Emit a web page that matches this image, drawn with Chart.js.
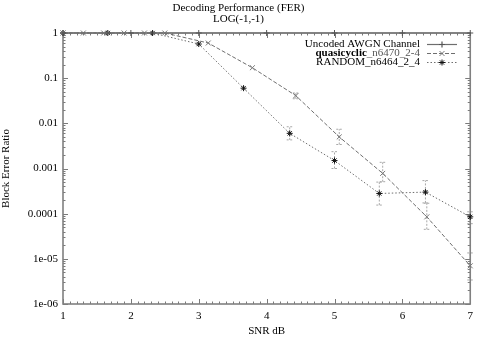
<!DOCTYPE html>
<html><head><meta charset="utf-8">
<script src="https://cdn.jsdelivr.net/npm/chart.js@4/dist/chart.umd.min.js"></script>
<style>html,body{margin:0;padding:0;background:#fff}#wrap{width:479px;height:338px}</style>
</head><body><div id="wrap"><canvas id="c" width="479" height="338"></canvas></div>
<script>
const titleLines = ["Decoding Performance (FER)", "LOG(-1,-1)"];
const xLabel = "SNR dB";
const yLabel = "Block Error Ratio";
const legendNames = ["Uncoded AWGN Channel", "quasicyclic_n6470_2-4", "RANDOM_n6464_2_4"];

const uncodedSnr = [1, 2, 3, 4, 5, 6, 7];
const uncodedFer = [1, 1, 1, 1, 1, 1, 1];

const quasiSnr = [1.0, 1.3, 1.6, 1.9, 2.2, 2.5, 3.14, 3.79, 4.43, 5.07, 5.71, 6.36, 7.0];
const quasiFer = [1, 1, 1, 1, 1, 1, 0.6, 0.17, 0.041, 0.005, 0.00078, 0.000085, 0.000007];
const quasiLo  = [null, null, null, null, null, null, null, null, 0.035, 0.0034, 0.00051, 0.000045, 0.0000034];
const quasiHi  = [null, null, null, null, null, null, null, null, 0.047, 0.0074, 0.00137, 0.00017, 0.0000135];

const randSnr = [1.0, 1.66, 2.32, 3.0, 3.66, 4.34, 5.0, 5.66, 6.34, 7.0];
const randFer = [1, 1, 1, 0.57, 0.06, 0.006, 0.0015, 0.00028, 0.0003, 0.000085];
const randLo  = [null, null, null, null, null, 0.0043, 0.001, 0.000155, 0.000173, 0.00006];
const randHi  = [null, null, null, null, null, 0.0084, 0.00236, 0.0005, 0.00054, 0.00011];

const xTicks = [1, 2, 3, 4, 5, 6, 7];
const yTicks = [1, 0.1, 0.01, 0.001, 0.0001, 0.00001, 0.000001];
const yTickText = ["1", "0.1", "0.01", "0.001", "0.0001", "1e-05", "1e-06"];

const FONT = "'Liberation Serif', 'DejaVu Serif', serif";
const FS = 11;
const pts = (xs, ys) => xs.map((x, i) => ({x: x, y: ys[i]}));

const dsStyle = [
  {color: '#6e6e6e', dash: [], pstyle: 'cross', pcolor: '#555', pr: 3, width: 1.2},
  {color: '#6e6e6e', dash: [4, 2], pstyle: 'crossRot', pcolor: '#777', pr: 3.5, width: 1},
  {color: '#6e6e6e', dash: [1.5, 2], pstyle: 'star', pcolor: '#111', pr: 3, width: 1}
];

const errPlugin = {
  id: 'errbars',
  beforeDatasetsDraw(chart) {
    const ctx = chart.ctx, xs = chart.scales.x, ys = chart.scales.y;
    const sets = [[quasiSnr, quasiLo, quasiHi], [randSnr, randLo, randHi]];
    ctx.save();
    ctx.strokeStyle = '#a8a8a8';
    ctx.lineWidth = 1;
    ctx.setLineDash([2, 1.5]);
    sets.forEach(([sx, lo, hi]) => {
      sx.forEach((x, i) => {
        if (lo[i] == null) return;
        const px = xs.getPixelForValue(x);
        const y1 = ys.getPixelForValue(lo[i]), y2 = ys.getPixelForValue(hi[i]);
        ctx.beginPath();
        ctx.moveTo(px, y1); ctx.lineTo(px, y2);
        ctx.moveTo(px - 3, y1); ctx.lineTo(px + 3, y1);
        ctx.moveTo(px - 3, y2); ctx.lineTo(px + 3, y2);
        ctx.stroke();
      });
    });
    ctx.restore();
  }
};

const framePlugin = {
  id: 'frame',
  beforeDatasetsDraw(chart) {
    const ctx = chart.ctx, a = chart.chartArea, xs = chart.scales.x, ys = chart.scales.y;
    ctx.save();
    ctx.strokeStyle = '#7a7a7a';
    ctx.lineWidth = 1;
    ctx.setLineDash([]);
    ctx.beginPath();
    for (let k = 0; k <= 60; k++) {
      const v = 1 + k / 10;
      const px = Math.round(xs.getPixelForValue(v)) + 0.5;
      const len = (k % 10 === 0) ? 5 : 2.5;
      ctx.moveTo(px, a.bottom); ctx.lineTo(px, a.bottom - len);
      ctx.moveTo(px, a.top); ctx.lineTo(px, a.top + len);
    }
    for (let d = -6; d <= 0; d++) {
      for (let m = 1; m <= 9; m++) {
        const v = m * Math.pow(10, d);
        if (v > 1.0000001) continue;
        const py = Math.round(ys.getPixelForValue(v)) + 0.5;
        const len = m === 1 ? 5 : 2.5;
        ctx.moveTo(a.left, py); ctx.lineTo(a.left + len, py);
        ctx.moveTo(a.right, py); ctx.lineTo(a.right - len, py);
      }
    }
    ctx.stroke();
    ctx.lineWidth = 1.6;
    ctx.strokeStyle = '#808080';
    ctx.strokeRect(a.left, a.top, a.right - a.left, a.bottom - a.top);
    ctx.restore();
  },
  afterDatasetsDraw(chart) {
    const ctx = chart.ctx;
    ctx.save();
    const rows = [44, 53, 62];
    const tx = 420, l0 = 427, l1 = 457;
    ctx.textBaseline = 'middle';
    rows.forEach((ry, i) => {
      const st = dsStyle[i];
      ctx.fillStyle = '#000';
      if (i === 1) {
        ctx.textAlign = 'left';
        const rest = "_n6470_2-4";
        ctx.font = FS + "px " + FONT;
        const wr = ctx.measureText(rest).width;
        ctx.fillStyle = '#555';
        ctx.fillText(rest, tx - wr, ry);
        ctx.font = "bold " + FS + "px " + FONT;
        const wb = ctx.measureText("quasicyclic").width;
        ctx.fillStyle = '#000';
        ctx.fillText("quasicyclic", tx - wr - wb, ry);
      } else {
        ctx.textAlign = 'right';
        ctx.font = FS + "px " + FONT;
        ctx.fillText(legendNames[i], tx, ry);
      }
      ctx.strokeStyle = st.color;
      ctx.lineWidth = st.width;
      ctx.setLineDash(st.dash);
      ctx.beginPath();
      ctx.moveTo(l0, ry + 0.5); ctx.lineTo(l1, ry + 0.5);
      ctx.stroke();
      ctx.setLineDash([]);
      const mx = (l0 + l1) / 2;
      ctx.strokeStyle = st.pcolor;
      ctx.fillStyle = st.pcolor;
      Chart.helpers.drawPoint(ctx, {pointStyle: st.pstyle, radius: st.pr, borderWidth: 1}, mx, ry + 0.5);
    });
    ctx.restore();
  }
};

function mkDs(i, data) {
  const st = dsStyle[i];
  return {
    label: legendNames[i], data: data, clip: false,
    borderColor: st.color, borderWidth: st.width, borderDash: st.dash,
    pointStyle: st.pstyle, pointRadius: st.pr, pointBorderColor: st.pcolor,
    pointBackgroundColor: st.pcolor, pointBorderWidth: 1, fill: false, tension: 0
  };
}

new Chart(document.getElementById('c'), {
  type: 'line',
  data: {datasets: [
    mkDs(0, pts(uncodedSnr, uncodedFer)),
    mkDs(1, pts(quasiSnr, quasiFer)),
    mkDs(2, pts(randSnr, randFer))
  ]},
  options: {
    responsive: false, animation: false, devicePixelRatio: 1,
    layout: {padding: {left: 0, right: 2, top: 0, bottom: 0}},
    plugins: {
      legend: {display: false}, tooltip: {enabled: false},
      title: {display: true, text: titleLines, color: '#000',
        font: {family: FONT, size: FS, weight: 'normal', lineHeight: 1},
        padding: {top: 3, bottom: 8}}
    },
    scales: {
      x: {type: 'linear', min: 1, max: 7,
        afterBuildTicks: s => { s.ticks = xTicks.map(v => ({value: v})); },
        afterFit: s => { s.height = 34; },
        grid: {display: false, drawTicks: false}, border: {display: false},
        ticks: {color: '#000', padding: 6, font: {family: FONT, size: FS}},
        title: {display: true, text: xLabel, color: '#000', padding: {top: 2, bottom: 0},
          font: {family: FONT, size: FS}}
      },
      y: {type: 'logarithmic', min: 0.000001, max: 1,
        afterBuildTicks: s => { s.ticks = yTicks.map(v => ({value: v})); },
        afterFit: s => { s.width = 63; },
        grid: {display: false, drawTicks: false}, border: {display: false},
        ticks: {color: '#000', padding: 5, font: {family: FONT, size: FS},
          callback: (v) => { const k = yTicks.findIndex(t => Math.abs(Math.log10(t) - Math.log10(v)) < 1e-6); return k >= 0 ? yTickText[k] : ''; }},
        title: {display: true, text: yLabel, color: '#000', padding: 0,
          font: {family: FONT, size: FS}}
      }
    }
  },
  plugins: [errPlugin, framePlugin]
});
</script></body></html>
